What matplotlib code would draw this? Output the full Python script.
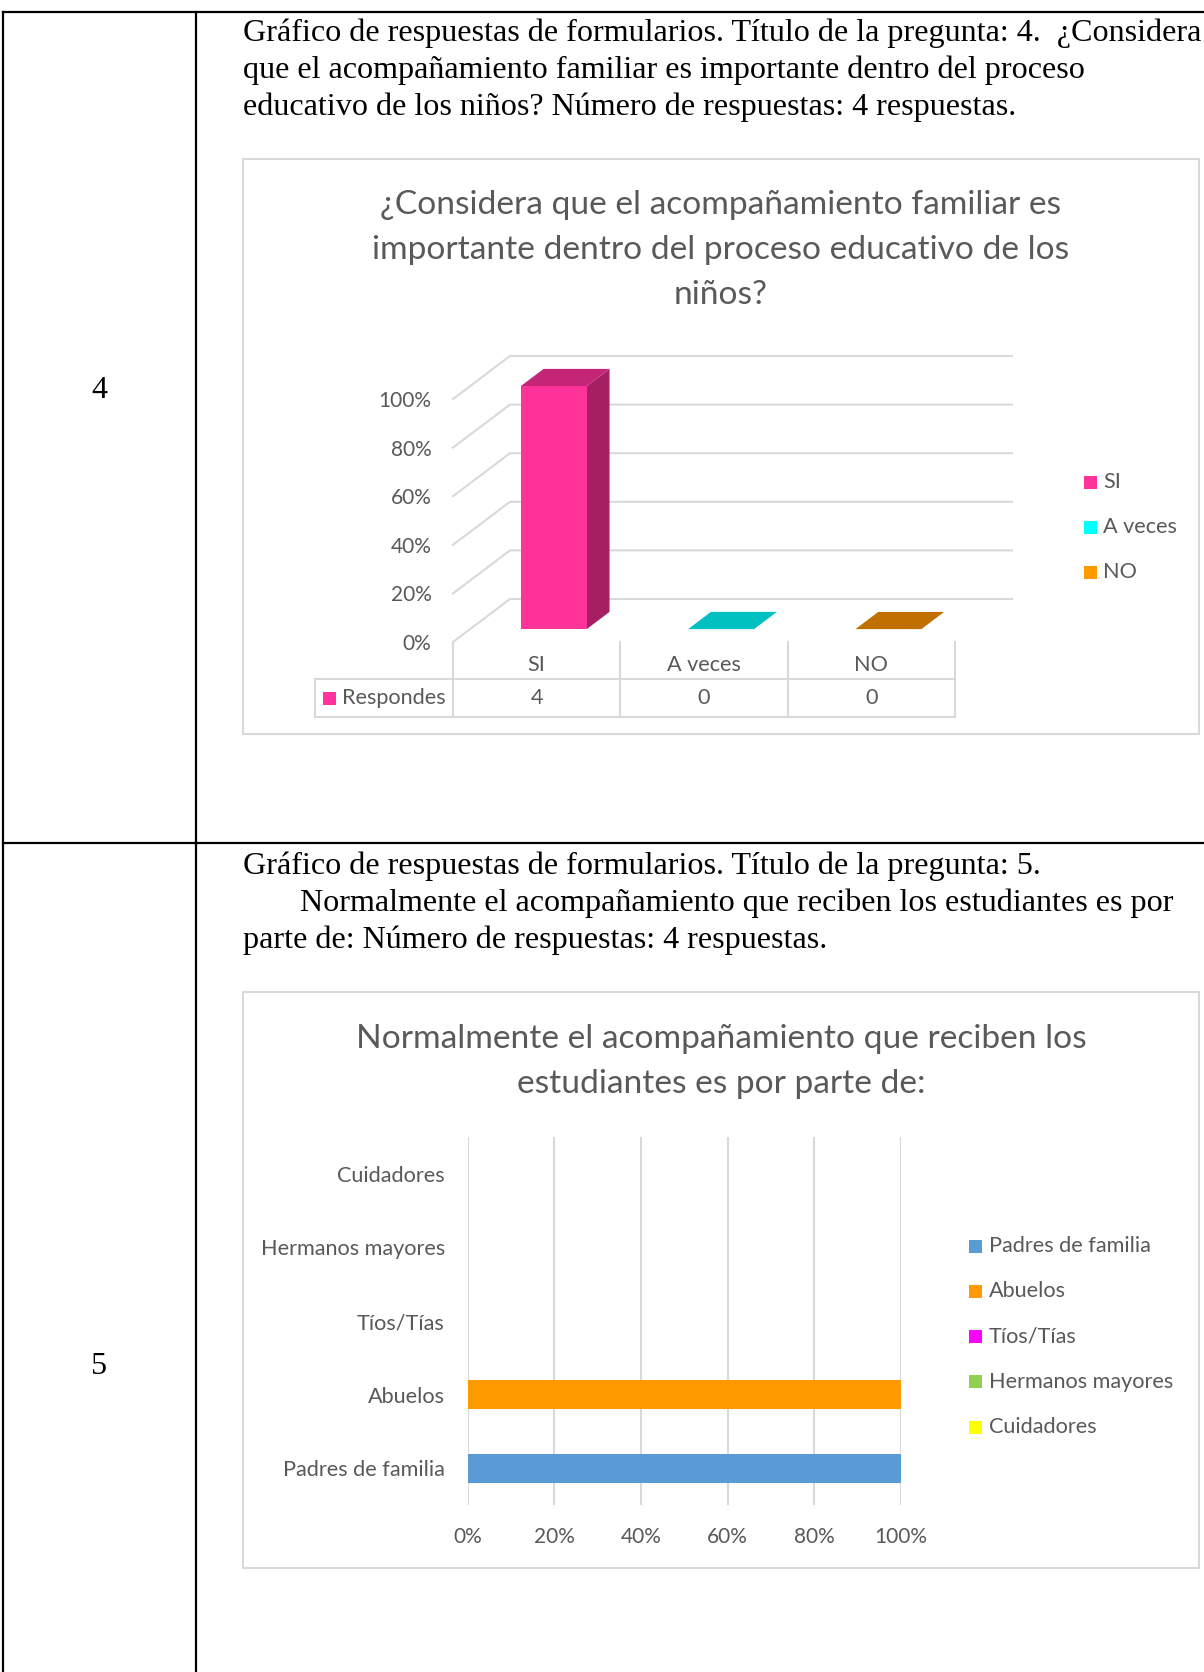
import numpy as np
import matplotlib
matplotlib.use("Agg")
import matplotlib.pyplot as plt
from matplotlib.patches import Polygon, Rectangle

W, H = 1204, 1672

# ---- data -------------------------------------------------------------
q4_categories = ["SI", "A veces", "NO"]
q4_responses = [4, 0, 0]
q4_total = 4
q4_front = ["#FF3399", "#00FFFF", "#FF9900"]
q4_side = ["#A51F62", "#009C9C", "#A86400"]
q4_top = ["#C42577", "#00C0C0", "#C07000"]
q4_ticks = [0, 20, 40, 60, 80, 100]
q4_series = "Respondes"

q5_categories = ["Padres de familia", "Abuelos", "Tíos/Tías", "Hermanos mayores", "Cuidadores"]
q5_values = [100, 100, 0, 0, 0]
q5_colors = ["#5B9BD5", "#FF9900", "#FF00FF", "#92D050", "#FFFF00"]
q5_ticks = [0, 20, 40, 60, 80, 100]

para4 = ["Gráfico de respuestas de formularios. Título de la pregunta: 4.  ¿Considera",
         "que el acompañamiento familiar es importante dentro del proceso",
         "educativo de los niños? Número de respuestas: 4 respuestas."]
para5 = ["Gráfico de respuestas de formularios. Título de la pregunta: 5.",
         "Normalmente el acompañamiento que reciben los estudiantes es por",
         "parte de: Número de respuestas: 4 respuestas."]
title4 = ["¿Considera que el acompañamiento familiar es",
          "importante dentro del proceso educativo de los",
          "niños?"]
title5 = ["Normalmente el acompañamiento que reciben los",
          "estudiantes es por parte de:"]

SERIF = "Liberation Serif"
SANS = "Lato"
GREY = "#595959"
GRID = "#D9D9D9"

fig = plt.figure(figsize=(W / 100, H / 100), dpi=100)
renderer = fig.canvas.get_renderer()


def fit(text, family, width_px):
    t = fig.text(0, 0, text, fontsize=10, family=family)
    w = t.get_window_extent(renderer).width
    t.remove()
    return 10 * width_px / w


def px_axes(x0, y0, x1, y1):
    return fig.add_axes([x0 / W, 1 - y1 / H, (x1 - x0) / W, (y1 - y0) / H])


fs_para = fit(para4[0], SERIF, 959)
fs_title = fit(title4[1], SANS, 698)
fs_tick = fit("100%", SANS, 53)
fs_label = fit("Hermanos mayores", SANS, 184)

# ---- page: table + text ------------------------------------------------
page = fig.add_axes([0, 0, 1, 1])
page.set_xlim(0, W)
page.set_ylim(H, 0)
page.axis("off")

lw_tab = 1.6
page.plot([3, W], [12, 12], color="black", lw=lw_tab)
page.plot([3, W], [843, 843], color="black", lw=lw_tab)
page.plot([3, 3], [12, H], color="black", lw=lw_tab)
page.plot([196, 196], [12, H], color="black", lw=lw_tab)

page.text(99, 390, "4", family=SERIF, fontsize=fs_para, ha="center", va="center")
page.text(99, 1367, "5", family=SERIF, fontsize=fs_para, ha="center", va="center")

for k, line in enumerate(para4):
    page.text(243, 33 + 37 * k, line, family=SERIF, fontsize=fs_para, va="center")
for k, line in enumerate(para5):
    page.text(300 if k == 1 else 243, 866 + 37 * k, line, family=SERIF,
              fontsize=fs_para, va="center")

# chart frames
page.add_patch(Rectangle((243, 159), 1199 - 243, 734 - 159, fill=False, ec=GRID, lw=1.5))
page.add_patch(Rectangle((243, 992), 1199 - 243, 1568 - 992, fill=False, ec=GRID, lw=1.5))

for k, line in enumerate(title4):
    page.text(721, 205 + 45 * k, line, family=SANS, fontsize=fs_title, color=GREY,
              ha="center", va="center")
for k, line in enumerate(title5):
    page.text(721, 1039 + 45 * k, line, family=SANS, fontsize=fs_title, color=GREY,
              ha="center", va="center")

# legends
for k, (lab, col) in enumerate(zip(q4_categories, q4_front)):
    y = 482 + 45 * k
    page.add_patch(Rectangle((1084, y - 6.5), 13, 13, color=col, lw=0))
    page.text(1103, y, lab, family=SANS, fontsize=fs_label, color=GREY, va="center")
for k, (lab, col) in enumerate(zip(q5_categories, q5_colors)):
    y = 1246 + 45.3 * k
    page.add_patch(Rectangle((969, y - 6.5), 13, 13, color=col, lw=0))
    page.text(989, y, lab, family=SANS, fontsize=fs_label, color=GREY, va="center")

# ---- chart 4: 3D column chart -------------------------------------------
CAT_PX = (955 - 453) / 3
PCT_PX = 243 / 100
DX, DY = 57 / CAT_PX, 43 / PCT_PX
ax1 = px_axes(453, 340, 1014, 642)
ax1.set_xlim(0, (1014 - 453) / CAT_PX)
ax1.set_ylim(0, (642 - 340) / PCT_PX)
ax1.patch.set_visible(False)
for s in ax1.spines.values():
    s.set_visible(False)
ax1.set_xticks([])
ax1.set_yticks(q4_ticks, labels=[f"{v}%" for v in q4_ticks])
ax1.tick_params(axis="y", length=0, pad=15.5, labelsize=fs_tick, labelcolor=GREY)
for lab in ax1.get_yticklabels():
    lab.set_family(SANS)

n = len(q4_categories)
for v in q4_ticks:
    ax1.plot([0, DX, n + DX], [v, v + DY, v + DY], color=GRID, lw=1.5, clip_on=False, zorder=1)

BW, D0, D1 = 0.394, 0.30, 0.70
pct = [r / q4_total * 100 for r in q4_responses]
for i, v in enumerate(pct):
    xc = i + 0.5 + D0 * DX
    xl, xr = xc - BW / 2, xc + BW / 2
    yb = D0 * DY
    yt = yb + v
    ddx, ddy = (D1 - D0) * DX, (D1 - D0) * DY
    if v > 0:
        ax1.add_patch(Polygon([(xr, yb), (xr + ddx, yb + ddy), (xr + ddx, yt + ddy), (xr, yt)],
                              closed=True, fc=q4_side[i], ec="none", zorder=3, clip_on=False))
        ax1.add_patch(Rectangle((xl, yb), BW, v, fc=q4_front[i], ec="none", zorder=4, clip_on=False))
    ax1.add_patch(Polygon([(xl, yt), (xr, yt), (xr + ddx, yt + ddy), (xl + ddx, yt + ddy)],
                          closed=True, fc=q4_top[i], ec="none", zorder=5, clip_on=False))

# data table under the chart
ROW1, ROW2 = -37 / PCT_PX, -75 / PCT_PX
LEFT = -138 / CAT_PX
for i in range(n + 1):
    ax1.plot([i, i], [0, ROW2], color=GRID, lw=1.5, clip_on=False)
for yy in (ROW1, ROW2):
    ax1.plot([LEFT, n], [yy, yy], color=GRID, lw=1.5, clip_on=False)
ax1.plot([LEFT, LEFT], [ROW1, ROW2], color=GRID, lw=1.5, clip_on=False)
for i, (cat, r) in enumerate(zip(q4_categories, q4_responses)):
    ax1.text(i + 0.5, ROW1 * 0.62, cat, family=SANS, fontsize=fs_label, color=GREY,
             ha="center", va="center", clip_on=False)
    ax1.text(i + 0.5, (ROW1 + ROW2) / 2, str(r), family=SANS, fontsize=fs_label, color=GREY,
             ha="center", va="center", clip_on=False)
ax1.add_patch(Rectangle((LEFT + 8 / CAT_PX, (ROW1 + ROW2) / 2 - 6.5 / PCT_PX), 13 / CAT_PX, 13 / PCT_PX,
                        color=q4_front[0], lw=0, clip_on=False))
ax1.text(LEFT + 27 / CAT_PX, (ROW1 + ROW2) / 2, q4_series, family=SANS, fontsize=fs_label,
         color=GREY, va="center", clip_on=False)

# ---- chart 5: horizontal bars -------------------------------------------
ax2 = px_axes(467.7, 1137, 900.7, 1505)
ax2.barh(range(len(q5_categories)), q5_values, height=0.394, color=q5_colors, zorder=3)
ax2.set_xlim(0, 100)
ax2.set_ylim(-0.5, len(q5_categories) - 0.5)
ax2.set_xticks(q5_ticks, labels=[f"{v}%" for v in q5_ticks])
ax2.set_yticks(range(len(q5_categories)), labels=q5_categories)
ax2.grid(axis="x", color=GRID, lw=1.5, zorder=0)
ax2.patch.set_visible(False)
for s in ax2.spines.values():
    s.set_visible(False)
ax2.tick_params(axis="x", length=0, pad=16, labelsize=fs_tick, labelcolor=GREY)
ax2.tick_params(axis="y", length=0, pad=16.5, labelsize=fs_label, labelcolor=GREY)
for lab in ax2.get_xticklabels() + ax2.get_yticklabels():
    lab.set_family(SANS)

fig.savefig("out.png", dpi=100)
